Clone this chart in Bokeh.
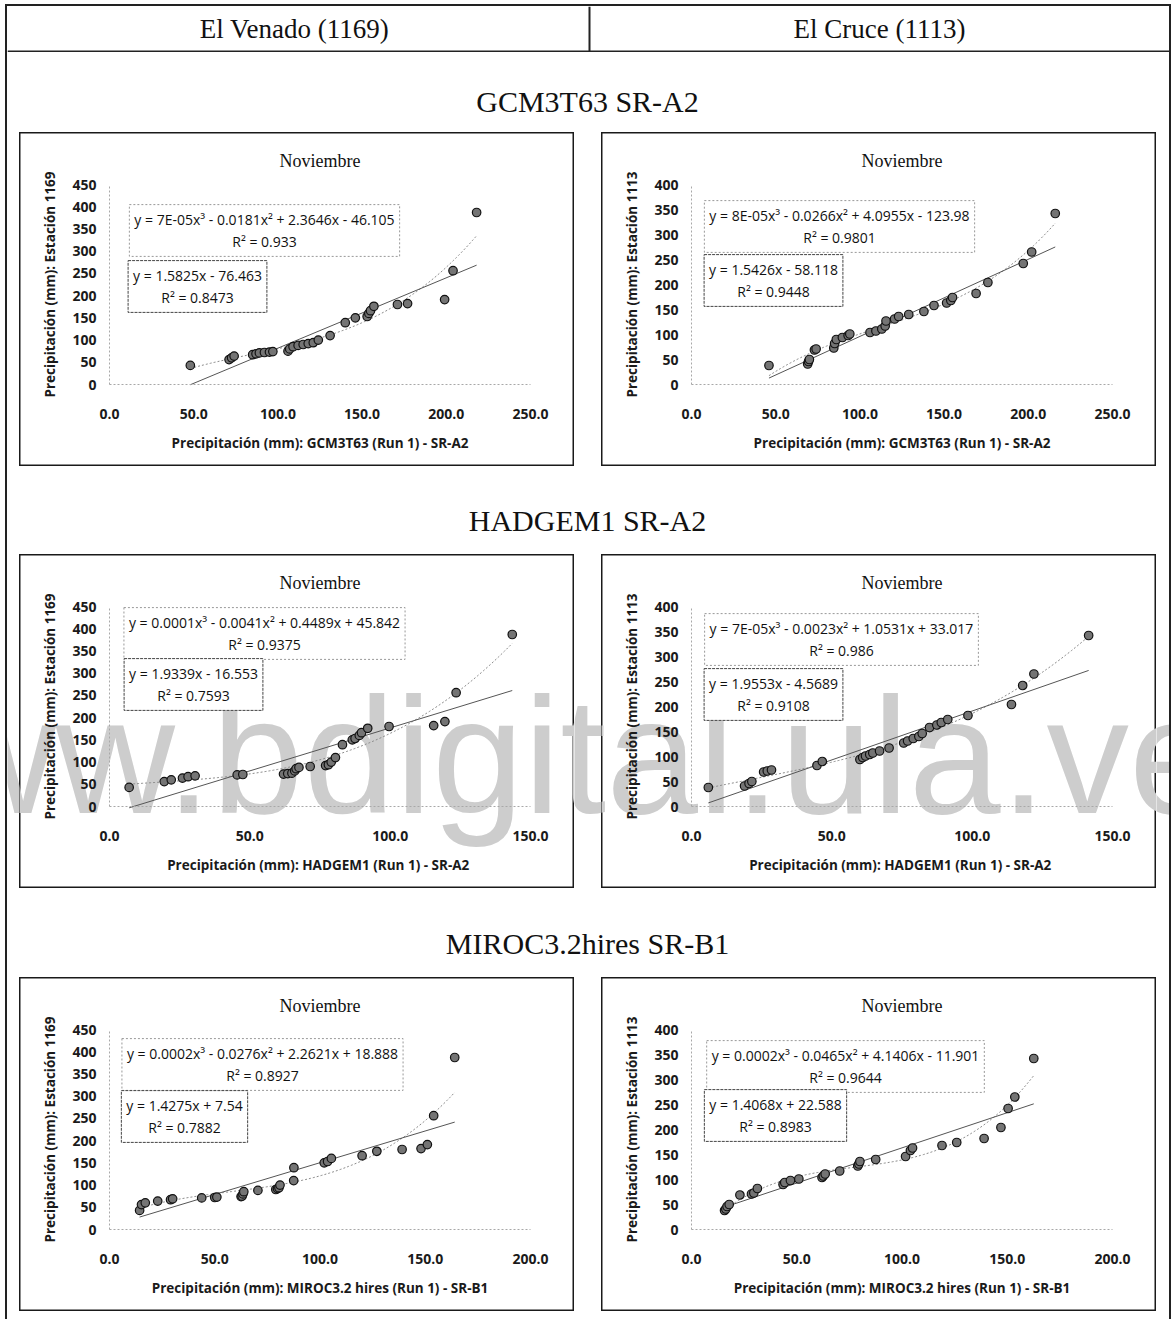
import numpy as np
from bokeh.plotting import figure
from bokeh.models import Range1d, Label, FixedTicker, NumeralTickFormatter, Spacer
from bokeh.layouts import column, row
from bokeh.embed import file_html
from bokeh.resources import INLINE
from bokeh.core.properties import value

# ---------------- data ----------------
stations = ["El Venado (1169)", "El Cruce (1113)"]
station_codes = ["1169", "1113"]
sections = ["GCM3T63 SR-A2", "HADGEM1 SR-A2", "MIROC3.2hires SR-B1"]
model_axis = ["GCM3T63 (Run 1) - SR-A2", "HADGEM1  (Run 1) - SR-A2", "MIROC3.2 hires (Run 1) - SR-B1"]
month = "Noviembre"
x_max = [250, 150, 200]
y_max = [450, 400]

# observed (sorted) November precipitation, stations 1169 and 1113
obs_1169 = [43, 56, 60, 64, 67, 69, 71, 72, 73, 74, 75, 80, 85, 88, 90, 92, 94, 100, 110, 139,
            150, 153, 160, 166, 176, 180, 182, 191, 256, 387]
obs_1113 = [38, 41, 46, 50, 69, 71, 73, 82, 90, 94, 98, 101, 104, 107, 111, 117, 127, 131, 136, 140,
            146, 158, 163, 168, 174, 182, 204, 242, 265, 342]

# model (sorted) November precipitation
gcm_1169 = [48, 71, 72.5, 74, 85, 87, 89, 92, 95, 97, 106, 107, 109, 112, 115, 118, 121, 124, 131, 140,
            146, 153, 154, 155, 157, 171, 177, 199, 204, 218]
gcm_1113 = [46, 69, 69.5, 70, 73, 74, 84.5, 85, 86, 89.6, 93, 94, 106, 109.5, 113, 115, 115.5, 120.6, 123, 129,
            138, 144, 151.5, 154, 155, 169, 176, 197, 202, 216]
had_1169 = [7, 19.5, 22, 26, 28, 30.5, 45.5, 47.5, 62, 63.5, 65, 66, 66.5, 67.5, 71.5, 77, 78, 79, 80.5, 83,
            86.5, 87.5, 89, 89.8, 92, 99.6, 115.5, 119.5, 123.5, 143.5]
had_1113 = [6, 18.9, 20.5, 21.5, 25.7, 27, 28.5, 44.7, 46.6, 60, 61, 62, 63.5, 64.6, 67, 70.4, 75.6, 77, 79, 81,
            82.2, 84.8, 87.4, 89, 91.3, 98.5, 114, 118, 122, 141.5]
mir_1169 = [14.3, 15.2, 17, 22.9, 29, 30, 43.8, 50, 51, 62.5, 63, 63.4, 63.8, 70.5, 79, 79.8, 80.5, 81, 87.5, 87.6,
            102, 103.6, 105.4, 120, 127, 139, 148, 151, 154, 164]
mir_1113 = [15.7, 16.3, 16.9, 17.9, 23, 28.5, 29.6, 31.3, 43.5, 44.3, 47, 51, 62, 62.6, 63.5, 70.4, 79, 79.5, 80, 87.5,
            101.7, 104, 105, 119, 126, 139, 147, 150.4, 153.6, 162.6]

# printed trendline equations
poly_text = [
    ["y = 7E-05x³ - 0.0181x² + 2.3646x - 46.105\nR² = 0.933",
     "y = 8E-05x³ - 0.0266x² + 4.0955x - 123.98\nR² = 0.9801"],
    ["y = 0.0001x³ - 0.0041x² + 0.4489x + 45.842\nR² = 0.9375",
     "y = 7E-05x³ - 0.0023x² + 1.0531x + 33.017\nR² = 0.986"],
    ["y = 0.0002x³ - 0.0276x² + 2.2621x + 18.888\nR² = 0.8927",
     "y = 0.0002x³ - 0.0465x² + 4.1406x - 11.901\nR² = 0.9644"],
]
lin_text = [
    ["y = 1.5825x - 76.463\nR² = 0.8473", "y = 1.5426x - 58.118\nR² = 0.9448"],
    ["y = 1.9339x - 16.553\nR² = 0.7593", "y = 1.9553x - 4.5689\nR² = 0.9108"],
    ["y = 1.4275x + 7.54\nR² = 0.7882", "y = 1.4068x + 22.588\nR² = 0.8983"],
]
lin_slope = [[1.5825, 1.5426], [1.9339, 1.9553], [1.4275, 1.4068]]
lin_icpt = [[-76.463, -58.118], [-16.553, -4.5689], [7.54, 22.588]]

model_x = [[gcm_1169, gcm_1113], [had_1169, had_1113], [mir_1169, mir_1113]]
obs_y = [obs_1169, obs_1113]

# ---------------- layout constants ----------------
FONT = "Open Sans"
SERIF = "Liberation Serif"
W = 1162
PW, PH = 555, 334            # chart panel (canvas = frame = panel box)
FL, FW, FT, FH = 90, 421, 52, 200   # data area inside the panel
FB = PH - FT - FH
POS_POLY = [[(155, 154), (148, 158)], [(155, 173), (150, 167)], [(153, 165), (154, 163)]]
POS_LIN = [[(88, 98), (82, 104)], [(84, 122), (82, 112)], [(75, 113), (84, 114)]]
WM_TEXT = "www.bdigital.ula.ve"
WM_LEFT, WM_BASE = -182, 812  # page coords of the watermark
WM_FIX = 56                   # baseline correction for the text box

OX, OY = 1, 1
PAD_X, PAD_Y = 5, 4
BORDER = 2
CX = OX + PAD_X + BORDER
CY = OY + PAD_Y + BORDER
HH = 46
T_H = [80, 88, 89]
T_CY = [49, 54, 55]
GAPS = [12, 27, 13]


def wm_label(x, y):
    return Label(x=x, y=y, x_units="screen", y_units="screen", text=WM_TEXT,
                 text_font="Liberation Sans", text_font_size="165px", text_color="#cdcdcd",
                 text_baseline="alphabetic", text_align="left", level="underlay")


def chart(mi, si, wm=None):
    xs = model_x[mi][si]
    ys = obs_y[si]
    xmax, ymax = x_max[mi], y_max[si]
    sx, sy = FW / xmax, FH / ymax
    p = figure(width=PW, height=PH,
               x_range=Range1d(-FL / sx, (PW - FL) / sx),
               y_range=Range1d(-FB / sy, (PH - FB) / sy),
               output_backend="svg", toolbar_location=None, min_border=0,
               outline_line_color="#1a1a1a", outline_line_width=2,
               background_fill_color="white", border_fill_color="white")
    p.xgrid.visible = False
    p.ygrid.visible = False
    xa, ya = p.xaxis[0], p.yaxis[0]
    xa.fixed_location = 0
    ya.fixed_location = 0
    xa.bounds = (0, xmax)
    ya.bounds = (0, ymax)
    xa.ticker = FixedTicker(ticks=list(range(0, xmax + 1, 50)))
    xa.formatter = NumeralTickFormatter(format="0.0")
    ya.ticker = FixedTicker(ticks=list(range(0, ymax + 1, 50)))
    ya.formatter = NumeralTickFormatter(format="0")
    for ax in (xa, ya):
        ax.axis_line_color = "#a8a8a8"
        ax.axis_line_dash = "2 2"
        ax.major_tick_line_color = None
        ax.minor_tick_line_color = None
        ax.major_tick_out = 0
        ax.major_tick_in = 0
        ax.major_label_text_font = FONT
        ax.major_label_text_font_size = "14px"
        ax.major_label_text_font_style = "bold"
        ax.major_label_text_color = "#1a1a1a"
        ax.axis_label_text_font = FONT
        ax.axis_label_text_font_size = "13.5px"
        ax.axis_label_text_font_style = "bold"
        ax.axis_label_text_color = "#1a1a1a"
    xa.major_label_standoff = 24
    xa.axis_label_standoff = 12
    ya.major_label_standoff = 13
    ya.axis_label_standoff = 10
    xa.axis_label = "Precipitación (mm): " + model_axis[mi]
    ya.axis_label = "Precipitación (mm): Estación " + station_codes[si]

    if wm is not None:
        p.add_layout(wm_label(*wm))

    x0, x1 = min(xs), max(xs)
    xx = np.linspace(x0, x1, 200)
    cp = np.polyfit(xs, ys, 3)
    p.line(xx, np.polyval(cp, xx), line_color="#8a8a8a", line_width=1, line_dash="2 2")
    a, b = lin_slope[mi][si], lin_icpt[mi][si]
    p.line([x0, x1], [a * x0 + b, a * x1 + b], line_color="#555555", line_width=1)
    p.scatter(xs, ys, size=8.5, marker="circle", fill_color="#747474", line_color="#111111", line_width=1.2)

    p.add_layout(Label(x=FL + FW / 2, y=FB + FH + 24, x_units="screen", y_units="screen", text=month,
                       text_align="center", text_baseline="middle", text_font=SERIF,
                       text_font_size="18px", text_color="#111111"))
    px, py = POS_POLY[mi][si]
    p.add_layout(Label(x=FL + px, y=FB + py, x_units="screen", y_units="screen", text=poly_text[mi][si],
                       text_align="center", text_baseline="middle", text_font=FONT,
                       text_font_size="14px", text_color="#111111",
                       background_fill_color="white", border_line_color="#999999",
                       border_line_dash="2 2", padding=5))
    lx, ly = POS_LIN[mi][si]
    p.add_layout(Label(x=FL + lx, y=FB + ly, x_units="screen", y_units="screen", text=lin_text[mi][si],
                       text_align="center", text_baseline="middle", text_font=FONT,
                       text_font_size="14px", text_color="#111111",
                       background_fill_color="white", border_line_color="#444444",
                       border_line_dash="3 1", padding=5))
    return p


def blank(w, h):
    p = figure(width=w, height=h, x_range=Range1d(0, w), y_range=Range1d(0, h),
               min_border=0, x_axis_location=None, y_axis_location=None,
               outline_line_color=None, toolbar_location=None, output_backend="svg",
               background_fill_color="white", border_fill_color="white")
    p.grid.visible = False
    return p


def title_fig(text, h, cy):
    p = blank(W, h)
    p.text(x=[580], y=[h - cy], text=[text], text_align="center", text_baseline="middle",
           text_font=value(SERIF), text_font_size=value("30px"), text_color="#111111")
    return p


# header
header = blank(W, HH)
header.segment(x0=[0, 582], y0=[1, 0], x1=[W, 582], y1=[1, HH], line_color="#222222", line_width=2)
header.text(x=[287, 872], y=[HH - 22, HH - 22], text=stations, text_align="center", text_baseline="middle",
            text_font=value(SERIF), text_font_size=value("27px"), text_color="#111111")


def chart_row(mi, top=None):
    if top is None:
        return row(Spacer(width=GAPS[0], height=PH), chart(mi, 0), Spacer(width=GAPS[1], height=PH),
                   chart(mi, 1), Spacer(width=GAPS[2], height=PH))
    wy = top + PH - WM_BASE + WM_FIX
    gx1 = CX
    g1 = blank(GAPS[0], PH)
    g1.add_layout(wm_label(WM_LEFT - gx1, wy))
    c1x = gx1 + GAPS[0]
    c1 = chart(mi, 0, wm=(WM_LEFT - c1x, wy))
    gx2 = c1x + PW
    g2 = blank(GAPS[1], PH)
    g2.add_layout(wm_label(WM_LEFT - gx2, wy))
    c2x = gx2 + GAPS[1]
    c2 = chart(mi, 1, wm=(WM_LEFT - c2x, wy))
    gx3 = c2x + PW
    g3 = blank(GAPS[2], PH)
    g3.add_layout(wm_label(WM_LEFT - gx3, wy))
    return row(g1, c1, g2, c2, g3)


row2_top = CY + HH + T_H[0] + PH + T_H[1]

body = column(
    header,
    title_fig(sections[0], T_H[0], T_CY[0]),
    chart_row(0),
    title_fig(sections[1], T_H[1], T_CY[1]),
    chart_row(1, top=row2_top),
    title_fig(sections[2], T_H[2], T_CY[2]),
    chart_row(2),
    Spacer(width=W, height=8),
    styles={"border-left": "2px solid #222", "border-right": "2px solid #222",
            "border-top": "2px solid #222"},
)

page = column(Spacer(width=10, height=PAD_Y), row(Spacer(width=PAD_X, height=10), body))

open("out.html", "w").write(file_html(page, INLINE))
